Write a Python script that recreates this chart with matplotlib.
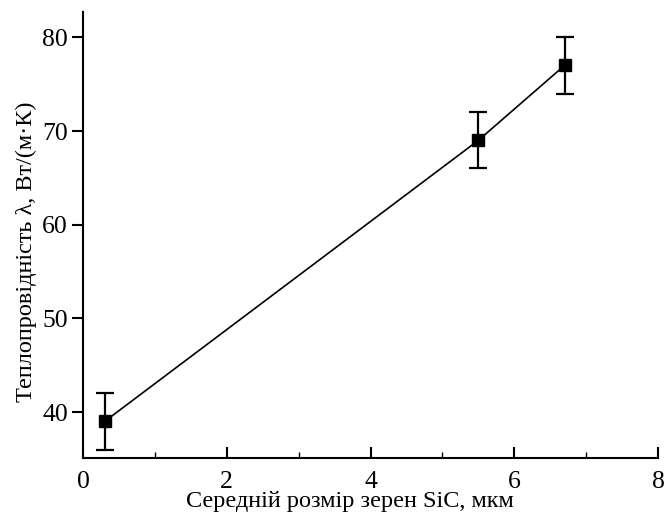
import numpy as np
import matplotlib.pyplot as plt
from matplotlib.ticker import MultipleLocator

plt.rcParams['font.family'] = ['Liberation Serif', 'DejaVu Serif']

# grain size of SiC, um / thermal conductivity, W/(m K)
grain_size = [0.3, 5.5, 6.7]
conductivity = [39, 69, 77]
error = [3, 3, 3]

fig = plt.figure(figsize=(6.68, 5.16), dpi=100)
ax = fig.add_axes([0.1243, 0.1124, 0.8607, 0.8643])

ax.plot(grain_size, conductivity, color='black', lw=1.2)
ax.errorbar(grain_size, conductivity, yerr=error, fmt='s', color='black',
            ms=8, capsize=6.5, elinewidth=1.6, capthick=1.6)

ax.set_xlim(0, 8)
ax.set_ylim(35.1, 82.7)
ax.xaxis.set_major_locator(MultipleLocator(2))
ax.xaxis.set_minor_locator(MultipleLocator(1))
ax.yaxis.set_major_locator(MultipleLocator(10))

for s in ['top', 'right']:
    ax.spines[s].set_visible(False)
for s in ['left', 'bottom']:
    ax.spines[s].set_linewidth(1.5)

ax.tick_params(axis='x', which='major', direction='in', length=8, width=1.5, labelsize=18.5, pad=9)
ax.tick_params(axis='x', which='minor', direction='in', length=4, width=1.0)
ax.tick_params(axis='y', which='major', direction='out', length=8, width=1.5, labelsize=18.5, pad=3)

ax.set_xlabel('Середній розмір зерен SiC, мкм', fontsize=17.5)
ax.set_ylabel('Теплопровідність λ, Вт/(м·К)', fontsize=17.5)
ax.xaxis.set_label_coords(0.464, -0.075)
ax.yaxis.set_label_coords(-0.08, 0.462)

fig.savefig('out.png', dpi=100)
